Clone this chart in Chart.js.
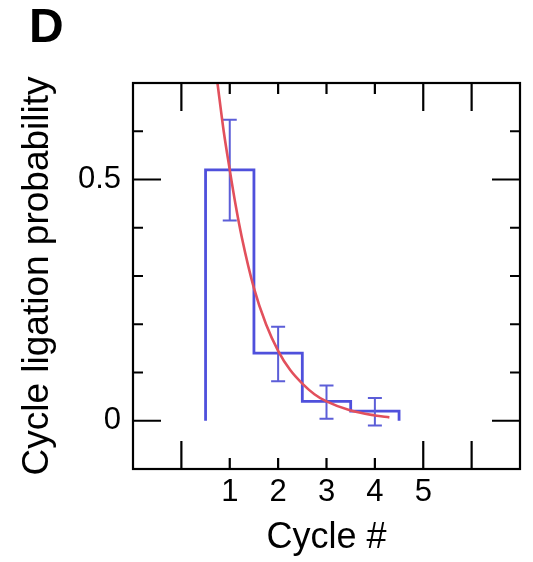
<!DOCTYPE html>
<html>
<head>
<meta charset="utf-8">
<script src="https://cdn.jsdelivr.net/npm/chart.js@4.4.1/dist/chart.umd.min.js"></script>
<style>
  body { margin: 0; background: #fff; }
  #quadro { position: relative; width: 533px; height: 562px; }
  #letra { position: absolute; left: 29px; top: 2px; font: bold 48px "Liberation Sans", Arial, sans-serif; line-height: 48px; color: #000; }
</style>
</head>
<body>
<div id="quadro">
  <canvas id="grafico" width="533" height="562"></canvas>
  <div id="letra">D</div>
</div>
<script>
// histograma (bordas dos bins e probabilidade por ciclo)
const binEdges = [0.5, 1.5, 2.5, 3.5, 4.5];
const cycles = [1, 2, 3, 4];
const probability = [0.52, 0.14, 0.04, 0.02];
const errLow = [0.415, 0.082, 0.004, -0.010];
const errHigh = [0.624, 0.195, 0.073, 0.047];

// curva de ajuste
const fitX = [0.746, 0.875, 1.0, 1.125, 1.25, 1.5, 1.75, 2.0, 2.25, 2.5, 2.75, 3.0, 3.5, 4.0, 4.3];
const fitY = [0.70, 0.60, 0.52, 0.445, 0.38, 0.275, 0.20, 0.145, 0.105, 0.077, 0.055, 0.040, 0.021, 0.011, 0.007];

// rótulos dos eixos
const xTickLabels = [1, 2, 3, 4, 5];
const yTickLabels = [0, 0.5];

const fonte = "'Liberation Sans', Arial, sans-serif";
const azul = "#4f50dc";
const vermelho = "#e2505c";

// contorno em degraus do histograma
const degraus = [{ x: binEdges[0], y: 0 }];
probability.forEach((p, i) => {
  degraus.push({ x: binEdges[i], y: p });
  degraus.push({ x: binEdges[i + 1], y: p });
});
degraus.push({ x: binEdges[binEdges.length - 1], y: 0 });

const ajuste = fitX.map((x, i) => ({ x: x, y: fitY[i] }));

const barrasErro = {
  id: "barrasErro",
  afterDatasetDraw(chart, args) {
    if (args.index !== 1) return;
    const ctx = chart.ctx;
    const sx = chart.scales.x;
    const sy = chart.scales.y;
    ctx.save();
    ctx.strokeStyle = "#5c5ed8";
    ctx.lineWidth = 2;
    cycles.forEach((c, i) => {
      const px = sx.getPixelForValue(c);
      const y1 = sy.getPixelForValue(errLow[i]);
      const y2 = sy.getPixelForValue(errHigh[i]);
      ctx.beginPath();
      ctx.moveTo(px, y1); ctx.lineTo(px, y2);
      ctx.moveTo(px - 7, y1); ctx.lineTo(px + 7, y1);
      ctx.moveTo(px - 7, y2); ctx.lineTo(px + 7, y2);
      ctx.stroke();
    });
    ctx.restore();
  }
};

const moldura = {
  id: "moldura",
  afterDraw(chart) {
    const ctx = chart.ctx;
    const a = chart.chartArea;
    const sx = chart.scales.x;
    const sy = chart.scales.y;
    ctx.save();
    ctx.strokeStyle = "#000";
    ctx.lineWidth = 2.2;
    ctx.strokeRect(a.left, a.top, a.right - a.left, a.bottom - a.top);
    ctx.beginPath();
    sx.ticks.forEach(t => {
      if (t.value <= sx.min || t.value >= sx.max) return;
      const px = sx.getPixelForValue(t.value);
      const len = [0, 5, 6].includes(t.value) ? 28 : 11;
      ctx.moveTo(px, a.top); ctx.lineTo(px, a.top + len);
      ctx.moveTo(px, a.bottom); ctx.lineTo(px, a.bottom - len);
    });
    sy.ticks.forEach(t => {
      if (t.value <= sy.min + 1e-6 || t.value >= sy.max - 1e-6) return;
      const py = sy.getPixelForValue(t.value);
      const grande = Math.abs(t.value) < 1e-6 || Math.abs(t.value - 0.5) < 1e-6;
      const len = grande ? 28 : 10;
      ctx.moveTo(a.left, py); ctx.lineTo(a.left + len, py);
      ctx.moveTo(a.right, py); ctx.lineTo(a.right - len, py);
    });
    ctx.stroke();
    ctx.restore();
  }
};

new Chart(document.getElementById("grafico"), {
  type: "scatter",
  data: {
    datasets: [
      {
        data: ajuste,
        showLine: true,
        borderColor: vermelho,
        borderWidth: 2.6,
        pointRadius: 0,
        cubicInterpolationMode: "monotone"
      },
      {
        data: degraus,
        showLine: true,
        borderColor: azul,
        borderWidth: 2.8,
        pointRadius: 0,
        tension: 0
      }
    ]
  },
  options: {
    responsive: false,
    animation: false,
    devicePixelRatio: 1,
    layout: { padding: { top: 83, right: 13, left: 0, bottom: 2 } },
    plugins: { legend: { display: false }, tooltip: { enabled: false } },
    scales: {
      x: {
        type: "linear",
        min: -1,
        max: 7,
        grid: { display: false, drawTicks: false },
        border: { display: false },
        ticks: {
          stepSize: 1,
          padding: 5,
          color: "#000",
          font: { family: fonte, size: 31 },
          callback: v => xTickLabels.includes(v) ? String(v) : ""
        },
        title: {
          display: true,
          text: "Cycle #",
          color: "#000",
          font: { family: fonte, size: 36 },
          padding: { top: 0, bottom: 0 }
        },
        afterFit: s => { s.height = 91; }
      },
      y: {
        type: "linear",
        min: -0.1,
        max: 0.7,
        grid: { display: false, drawTicks: false },
        border: { display: false },
        ticks: {
          stepSize: 0.1,
          padding: 12,
          color: "#000",
          font: { family: fonte, size: 31 },
          callback: v => {
            const r = Math.round(v * 10) / 10;
            return yTickLabels.includes(r) ? String(r) : "";
          }
        },
        title: {
          display: true,
          text: "Cycle ligation probability",
          color: "#000",
          font: { family: fonte, size: 37 },
          padding: { top: 16, bottom: 0 }
        },
        afterFit: s => { s.width = 133; }
      }
    }
  },
  plugins: [barrasErro, moldura]
});
</script>
</body>
</html>
